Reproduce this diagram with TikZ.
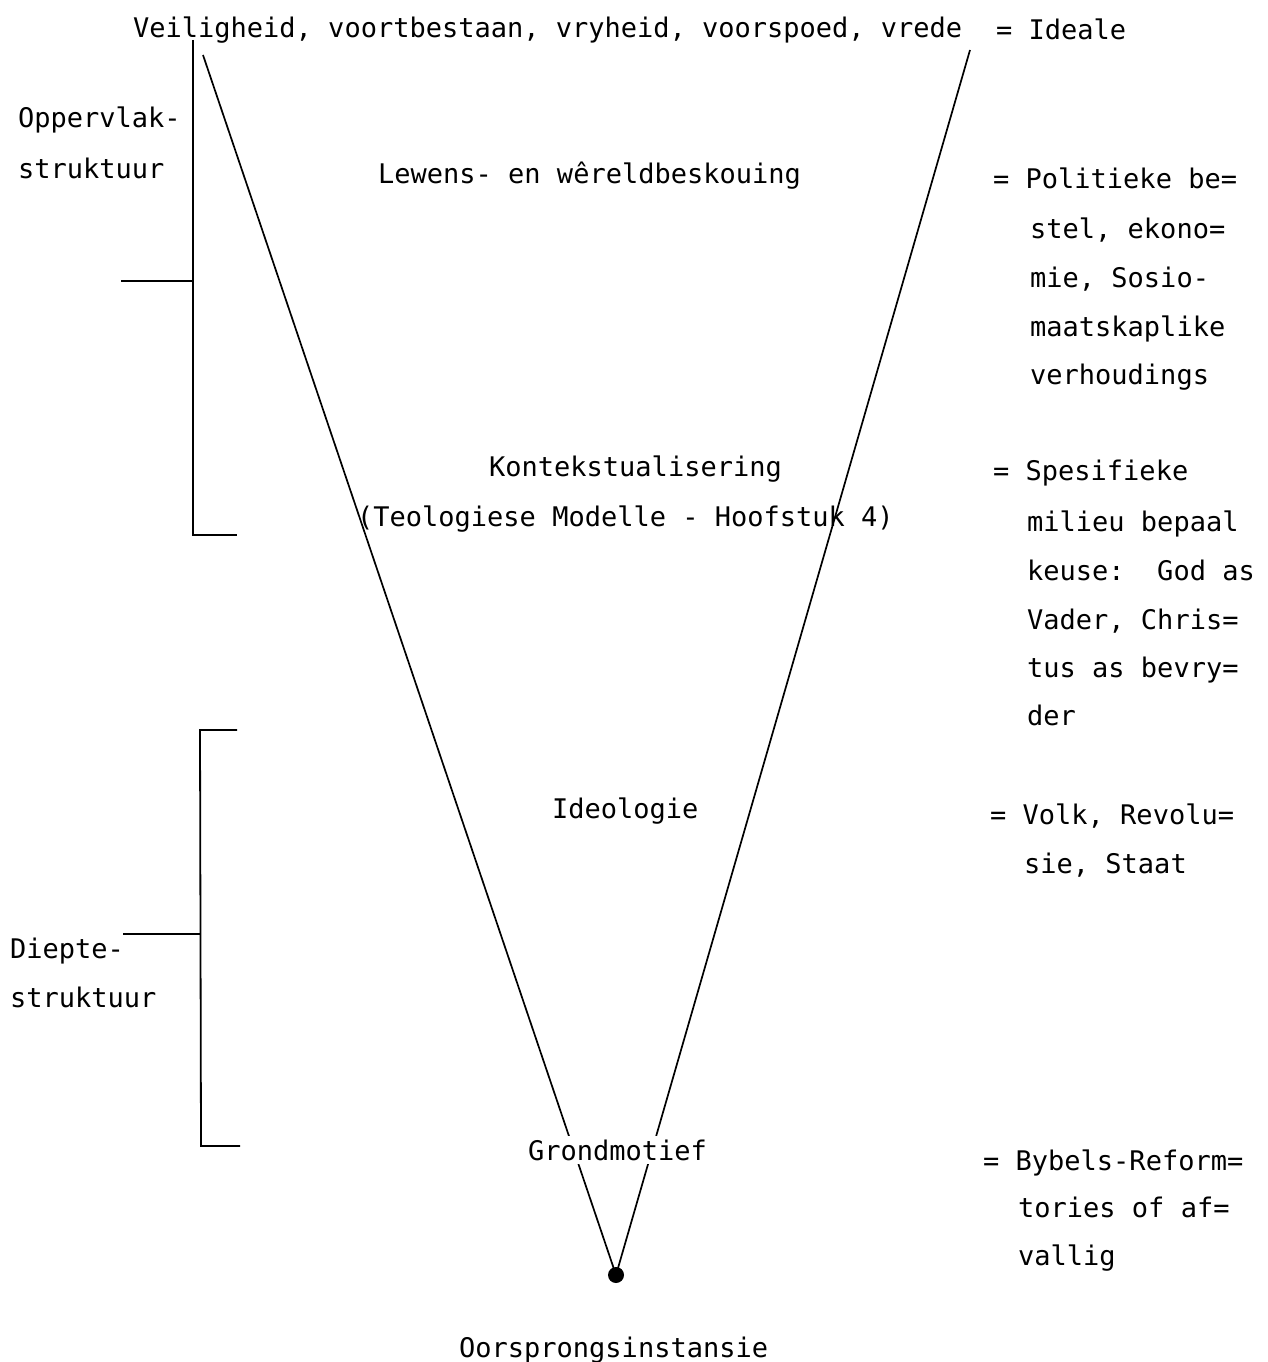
\documentclass[tikz,border=0pt]{standalone}
\usepackage{fontspec}
\newfontfamily\monof{DejaVu Sans Mono}
\begin{document}
\begin{tikzpicture}[x=1pt,y=-1pt,
  txt/.style={anchor=base west,inner sep=0pt,font=\monof\fontsize{27}{49}\selectfont},
  rule/.style={line width=1.8pt},
  arm/.style={line width=1.7pt}]
\useasboundingbox (0,0) rectangle (1268,1362);
% V shape
\coordinate (tl) at (203,55);
\coordinate (tr) at (970,50);
\coordinate (apex) at (616,1275);
\draw[arm] (tl) -- (apex) -- (tr);
\fill (apex) circle (8);
% upper bracket
\coordinate (ub1) at (193,40);
\coordinate (ub2) at (193,535);
\coordinate (ub3) at (237,535);
\coordinate (um1) at (121,281);
\coordinate (um2) at (193,281);
\draw[rule] (ub1) -- (ub2) -- (ub3);
\draw[rule] (um1) -- (um2);
% lower bracket
\coordinate (lb0) at (237,730);
\coordinate (lb1) at (200,730);
\coordinate (lb2) at (201,1146);
\coordinate (lb3) at (240,1146);
\coordinate (lm1) at (123,934);
\coordinate (lm2) at (200,934);
\draw[rule] (lb0) -- (lb1) -- (lb2) -- (lb3);
\draw[rule] (lm1) -- (lm2);
% texts
\node[txt] (ideals) at (133,38) {Veiligheid, voortbestaan, vryheid, voorspoed, vrede};
\node[txt] (idealeq) at (996,40) {= Ideale};
\node[txt] (opp1) at (18,128) {Oppervlak-};
\node[txt] (opp2) at (18,178) {struktuur};
\node[txt] (lewens) at (378,183) {Lewens- en wêreldbeskouing};
\node[txt] (pol1) at (993,188) {= Politieke be=};
\node[txt] (pol2) at (1030,238) {stel, ekono=};
\node[txt] (pol3) at (1030,287) {mie, Sosio-};
\node[txt] (pol4) at (1030,336) {maatskaplike};
\node[txt] (pol5) at (1030,384) {verhoudings};
\node[txt] (kont1) at (489,476) {Kontekstualisering};
\node[txt] (kont2) at (357,526) {(Teologiese Modelle - Hoofstuk 4)};
\node[txt] (spes1) at (993,480) {= Spesifieke};
\node[txt] (spes2) at (1027,531) {milieu bepaal};
\node[txt] (spes3) at (1027,580) {keuse:\ \ God as};
\node[txt] (spes4) at (1027,629) {Vader, Chris=};
\node[txt] (spes5) at (1027,677) {tus as bevry=};
\node[txt] (spes6) at (1027,725) {der};
\node[txt] (ideo) at (552,818) {Ideologie};
\node[txt] (volk1) at (990,824) {= Volk, Revolu=};
\node[txt] (volk2) at (1024,873) {sie, Staat};
\node[txt] (diep1) at (10,958) {Diepte-};
\node[txt] (diep2) at (10,1007) {struktuur};
\node[txt,fill=white,inner ysep=4pt] (grond) at (528,1160) {Grondmotief};
\node[txt] (byb1) at (983,1170) {= Bybels-Reform=};
\node[txt] (byb2) at (1018,1217) {tories of af=};
\node[txt] (byb3) at (1018,1265) {vallig};
\node[txt] (oors) at (459,1357) {Oorsprongsinstansie};
\end{tikzpicture}
\end{document}
